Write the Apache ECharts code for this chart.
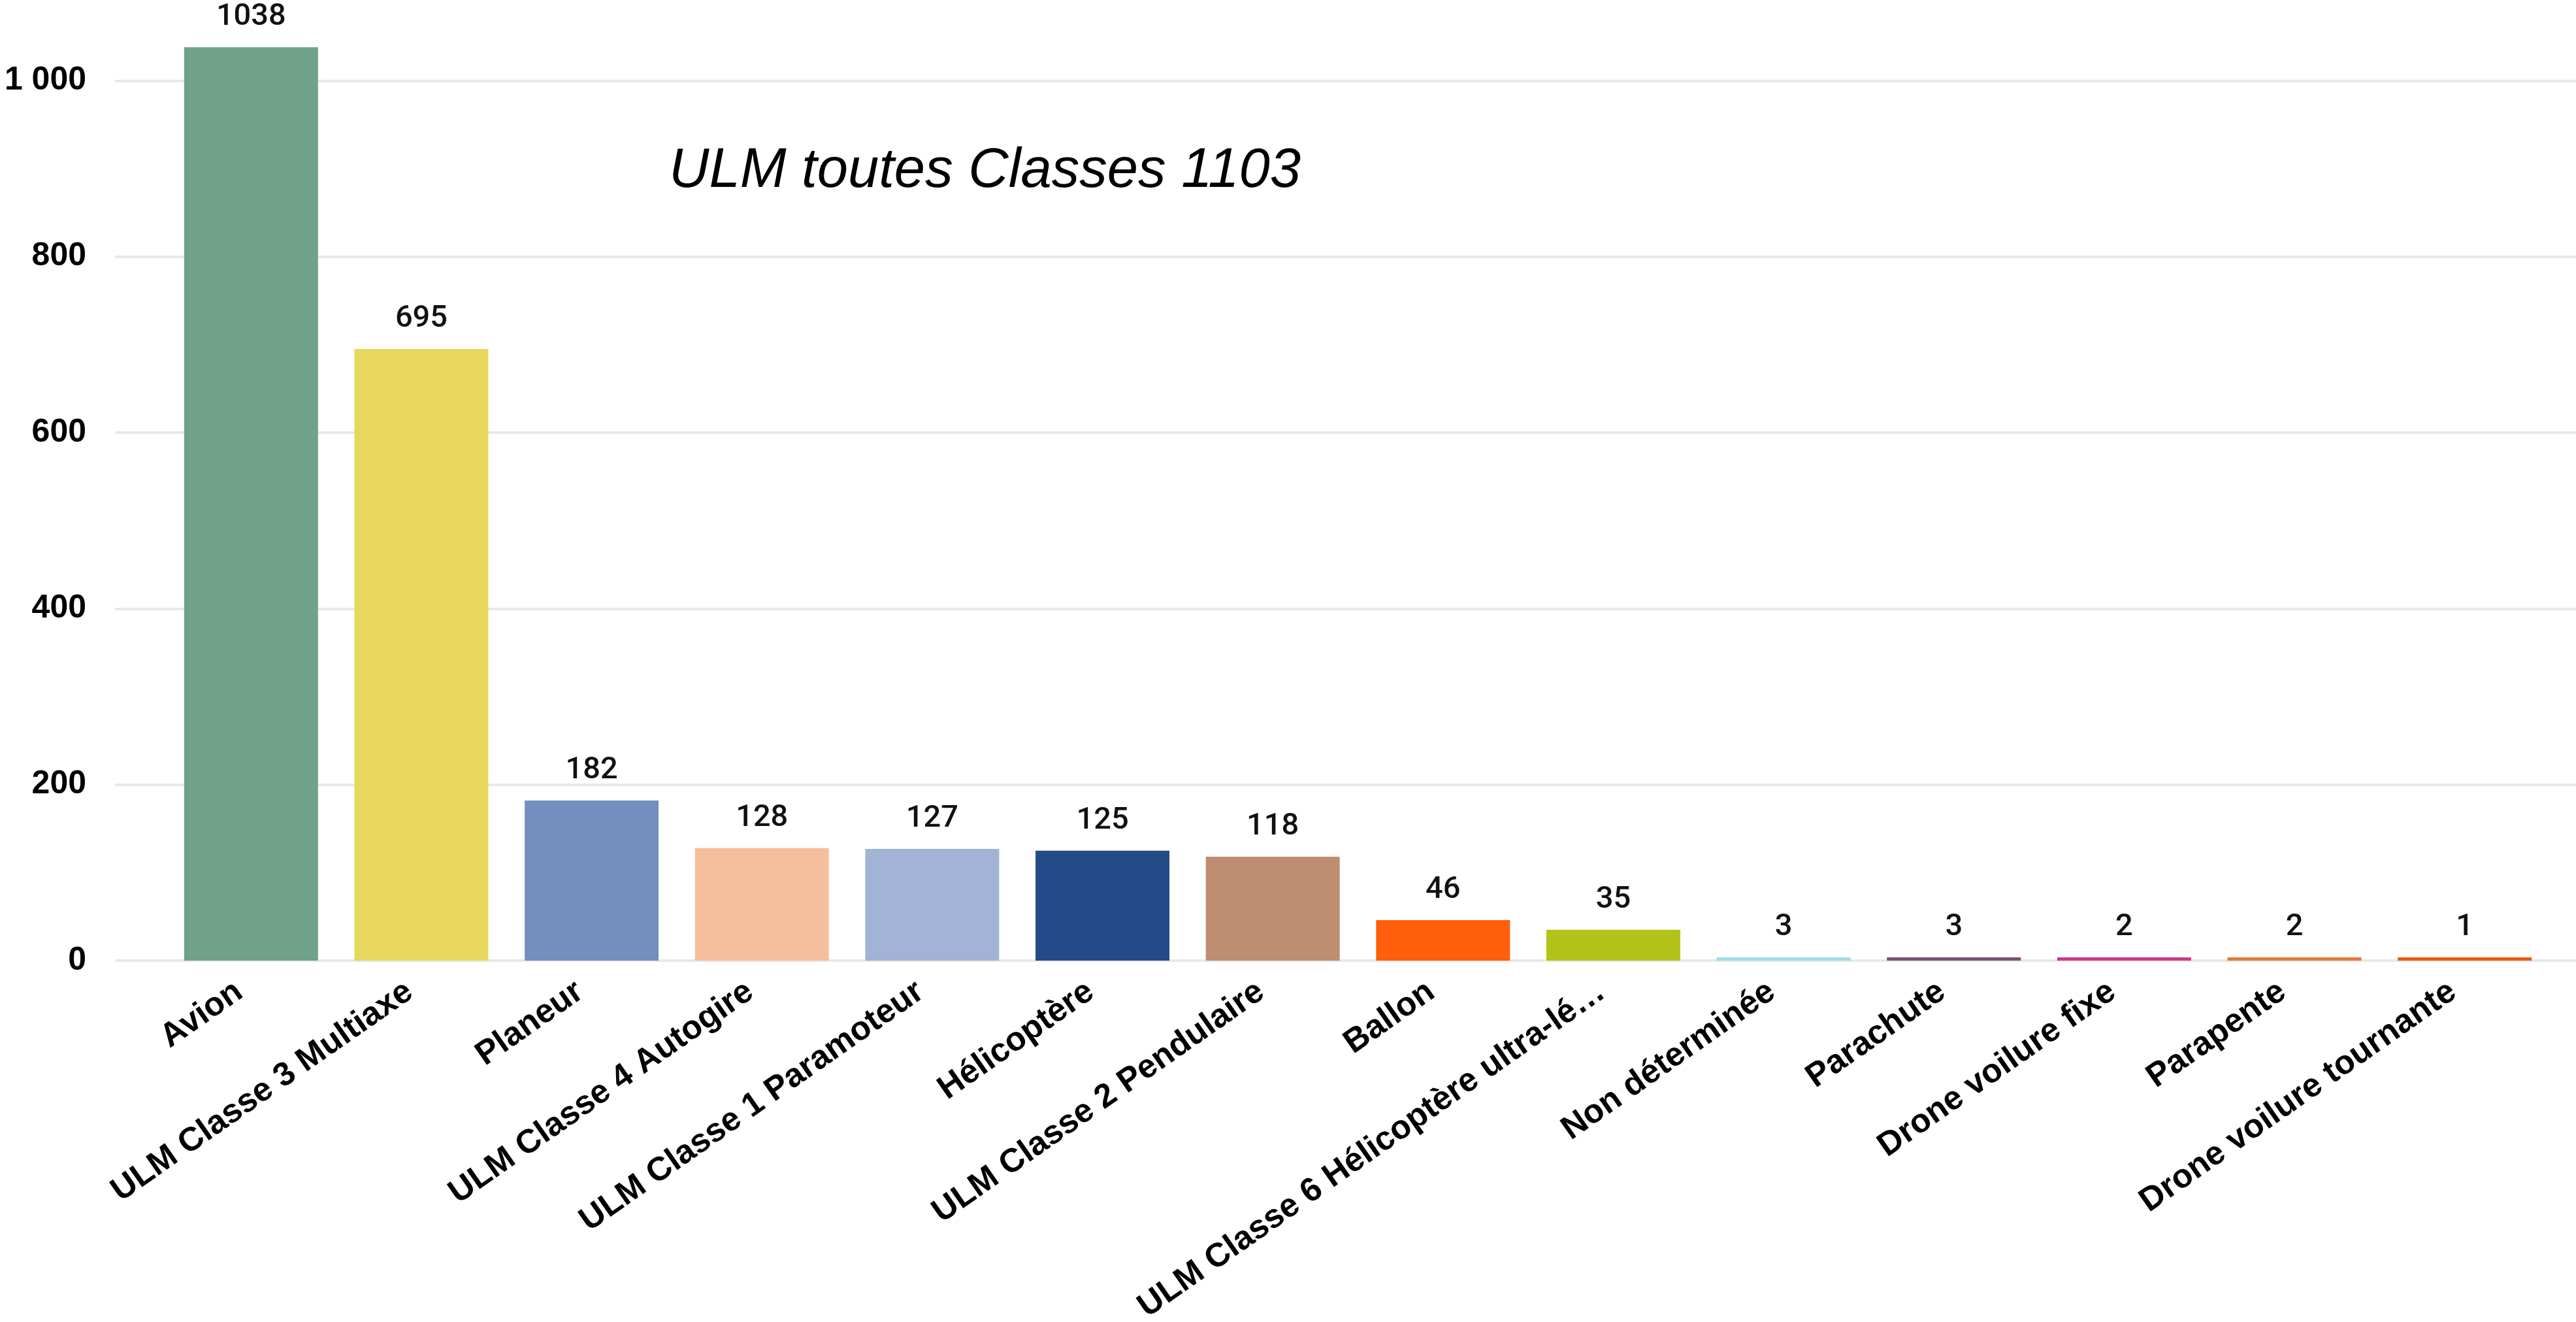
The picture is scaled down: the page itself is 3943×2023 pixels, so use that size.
<!DOCTYPE html>
<html>
<head>
<meta charset="utf-8">
<script src="https://cdn.jsdelivr.net/npm/echarts@6/dist/echarts.min.js"></script>
<style>
  html, body { margin: 0; padding: 0; background: #ffffff; }
  #chart { width: 3943px; height: 2023px; }
</style>
</head>
<body>
<div id="chart"></div>
<script>
// Aircraft categories and counts
const categories = [
  'Avion',
  'ULM Classe 3 Multiaxe',
  'Planeur',
  'ULM Classe 4 Autogire',
  'ULM Classe 1 Paramoteur',
  'Hélicoptère',
  'ULM Classe 2 Pendulaire',
  'Ballon',
  'ULM Classe 6 Hélicoptère ultra-lé…',
  'Non déterminée',
  'Parachute',
  'Drone voilure fixe',
  'Parapente',
  'Drone voilure tournante'
];
const counts = [1038, 695, 182, 128, 127, 125, 118, 46, 35, 3, 3, 2, 2, 1];
const barColors = [
  '#6fa288', '#e8d75f', '#748fbe', '#f5bf9e', '#a2b4d6', '#244b87', '#bf8d72',
  '#ff5e0a', '#b3c218', '#a0dcec', '#7c5075', '#c83b8d', '#e5793a', '#e85c12'
];
const yTicks = { min: 0, max: 1050, interval: 200 };
const headline = 'ULM toutes Classes 1103';

const chart = echarts.init(document.getElementById('chart'), null, { renderer: 'canvas' });

const gridTop = 56, gridBottom = 553;

chart.setOption({
  backgroundColor: '#ffffff',
  animation: false,
  grid: [
    { left: 254, right: 40, top: gridTop, bottom: gridBottom, containLabel: false, outerBoundsMode: 'none' },
    { left: 176, right: 0, top: gridTop, bottom: gridBottom, containLabel: false, outerBoundsMode: 'none' }
  ],
  xAxis: [
    {
      type: 'category',
      gridIndex: 0,
      data: categories,
      axisLine: { show: false },
      axisTick: { show: false },
      axisLabel: {
        interval: 0,
        rotate: 35,
        margin: 30,
        padding: [0, 22, 0, 0],
        color: '#000000',
        fontFamily: 'Liberation Sans, Arial, sans-serif',
        fontWeight: 'bold',
        fontSize: 51
      }
    },
    {
      type: 'value',
      gridIndex: 1,
      min: 0,
      max: 1,
      show: false
    }
  ],
  yAxis: [
    {
      type: 'value',
      gridIndex: 0,
      min: yTicks.min,
      max: yTicks.max,
      interval: yTicks.interval,
      axisLine: { show: false },
      axisTick: { show: false },
      axisLabel: { show: false },
      splitLine: { show: false }
    },
    {
      type: 'value',
      gridIndex: 1,
      min: yTicks.min,
      max: yTicks.max,
      interval: yTicks.interval,
      axisLine: { show: false },
      axisTick: { show: false },
      axisLabel: {
        showMaxLabel: false,
        margin: 44,
        color: '#000000',
        fontFamily: 'Liberation Sans, Arial, sans-serif',
        fontWeight: 'bold',
        fontSize: 50,
        formatter: function (v) {
          return String(v).replace(/\B(?=(\d{3})+(?!\d))/g, ' ');
        }
      },
      splitLine: {
        show: true,
        showMaxLine: false,
        lineStyle: { color: '#e8e8e8', width: 4 }
      }
    }
  ],
  series: [
    {
      type: 'bar',
      xAxisIndex: 0,
      yAxisIndex: 0,
      barWidth: 205,
      barMinHeight: 5,
      data: counts.map(function (v, i) {
        return { value: v, itemStyle: { color: barColors[i] } };
      }),
      label: {
        show: true,
        position: 'top',
        distance: 22,
        color: '#111111',
        fontFamily: 'Roboto, sans-serif',
        fontWeight: 500,
        fontSize: 47
      },
      z: 3
    }
  ],
  graphic: [
    {
      type: 'text',
      left: 1024,
      top: 263 - 43,
      style: {
        text: headline,
        fill: '#000000',
        font: 'italic 85px "Liberation Sans", Arial, sans-serif'
      },
      z: 10
    }
  ]
});
</script>
</body>
</html>
